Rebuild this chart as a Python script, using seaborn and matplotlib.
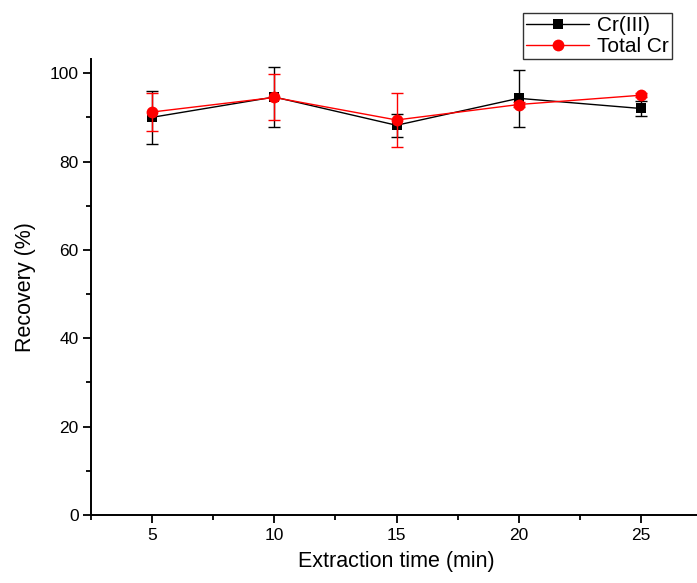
import matplotlib
matplotlib.use("Agg")
import matplotlib.pyplot as plt
from matplotlib.ticker import MultipleLocator
import seaborn as sns
import pandas as pd

# Data
times = [5, 10, 15, 20, 25]
cr3 = [90.0, 94.6, 88.2, 94.3, 92.0]
cr3_err = [6.0, 6.8, 2.6, 6.4, 1.7]
total_cr = [91.2, 94.5, 89.4, 92.9, 95.0]
total_cr_err = [4.2, 5.2, 6.1, 0.5, 0.5]
series_names = ["Cr(III)", "Total Cr"]
x_label = "Extraction time (min)"
y_label = "Recovery (%)"

sns.set_theme(style="ticks")
plt.rcParams['font.family'] = ['Liberation Sans', 'DejaVu Sans']
plt.rcParams['text.color'] = 'black'
plt.rcParams['axes.labelcolor'] = 'black'

fig = plt.figure(figsize=(6.97, 5.83), dpi=100)
ax = fig.add_axes([91/697, 68/583, (702-91)/697, (515-59)/583])

df = pd.DataFrame({"time": times, series_names[0]: cr3, series_names[1]: total_cr})

# Cr(III)
ax.errorbar(df["time"], df[series_names[0]], yerr=cr3_err, fmt='none',
            ecolor='black', elinewidth=1.0, capsize=4.5, capthick=1.0, zorder=2)
sns.lineplot(data=df, x="time", y=series_names[0], ax=ax, color='black',
             marker='s', markersize=7.5, markeredgewidth=0, linewidth=1.0,
             label=series_names[0], zorder=3)
# Total Cr
ax.errorbar(df["time"], df[series_names[1]], yerr=total_cr_err, fmt='none',
            ecolor='red', elinewidth=1.0, capsize=4.5, capthick=1.0, zorder=4)
sns.lineplot(data=df, x="time", y=series_names[1], ax=ax, color='red',
             marker='o', markersize=8.5, markeredgewidth=0, linewidth=1.0,
             label=series_names[1], zorder=5)

ax.set_xlim(2.5, 27.5)
ax.set_ylim(0, 103.2)
ax.xaxis.set_major_locator(MultipleLocator(5))
ax.xaxis.set_minor_locator(MultipleLocator(2.5))
ax.yaxis.set_major_locator(MultipleLocator(20))
ax.yaxis.set_minor_locator(MultipleLocator(10))

for s in ['top', 'right']:
    ax.spines[s].set_visible(False)
for s in ['left', 'bottom']:
    ax.spines[s].set_linewidth(1.4)
    ax.spines[s].set_color('black')

ax.tick_params(axis='both', which='major', direction='out', length=6, width=1.3,
               labelsize=12.5, colors='black', labelcolor='black', pad=3)
ax.tick_params(axis='both', which='minor', direction='out', length=3.5, width=1.3,
               colors='black')

ax.set_xlabel(x_label, fontsize=15.5, labelpad=6, color='black')
ax.set_ylabel(y_label, fontsize=15.5, labelpad=10, color='black')

leg = ax.legend(loc='upper right', bbox_to_anchor=(672/697, 1 - 13/583),
                bbox_transform=fig.transFigure, borderaxespad=0,
                frameon=True, fancybox=False, fontsize=15, handlelength=3.0,
                handletextpad=0.4, borderpad=0.15, labelspacing=0.1)
leg.get_frame().set_edgecolor('black')
leg.get_frame().set_linewidth(1.0)
for t in leg.get_texts():
    t.set_color('black')

fig.savefig("out.png", dpi=100)
